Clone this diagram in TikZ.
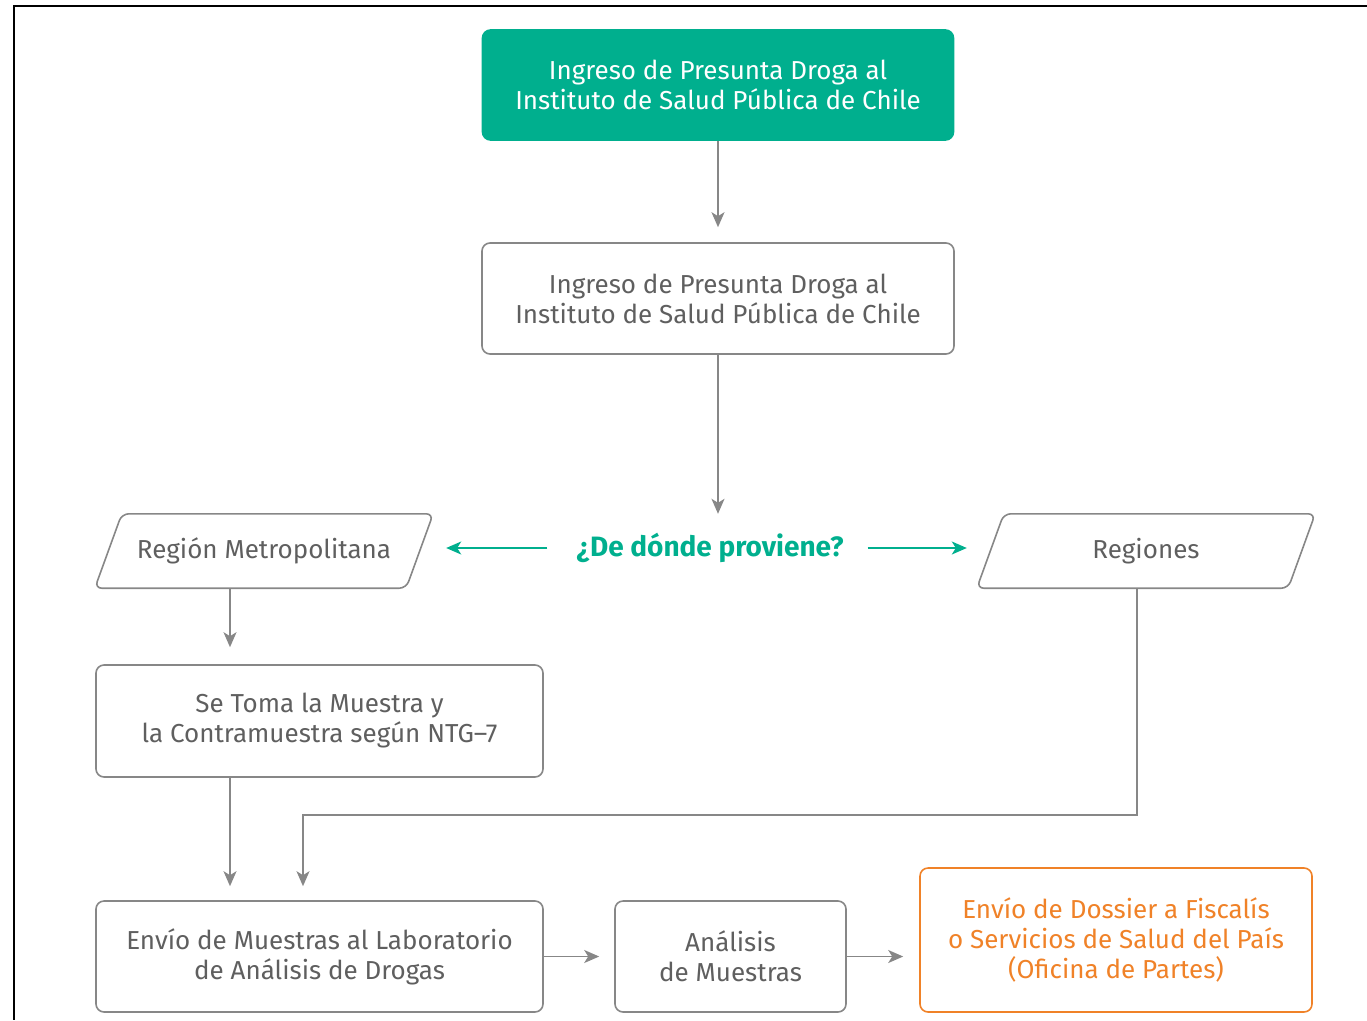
\documentclass[tikz,border=0pt]{standalone}
\usepackage{fontspec}
\setmainfont{Fira Sans}
\usetikzlibrary{arrows.meta}
\definecolor{ispgreen}{RGB}{0,175,142}
\definecolor{boxgray}{RGB}{135,135,135}
\definecolor{txtgray}{RGB}{95,95,95}
\definecolor{ispor}{RGB}{240,130,40}

\begin{document}
\begin{tikzpicture}[x=1pt, y=-1pt, font=\fontsize{26}{30}\selectfont,
	box/.style = {shape=rectangle, draw=boxgray, line width=1.6pt, rounded corners=8pt, align=center, text=txtgray, fill=white, inner sep=0pt},
	head/.style = {box, draw=ispgreen, fill=ispgreen, text=white},
	sent/.style = {box, draw=ispor, text=ispor},
	region/.style = {shape=rectangle, text=txtgray, minimum height=74pt, minimum width=338pt, inner sep=0pt},
	flow/.style = {draw=boxgray, line width=1.6pt, -{Stealth[length=15pt, width=13pt, inset=4pt]}},
	ask/.style = {draw=ispgreen, line width=1.6pt, -{Stealth[length=15pt, width=13pt, inset=4pt]}}]
	\useasboundingbox (0,0) rectangle (1367,1020);
	\draw[line width=2pt] (1367,6) -- (14,6) -- (14,1020);

	\node[head, minimum width=471pt, minimum height=110pt] (ingreso) at (718,85) {Ingreso de Presunta Droga al\\Instituto de Salud Pública de Chile};
	\node[box, minimum width=472pt, minimum height=111pt] (recep) at (718,298.5) {Ingreso de Presunta Droga al\\Instituto de Salud Pública de Chile};
	\node[text=ispgreen, font=\fontsize{28}{30}\selectfont\bfseries, inner sep=0pt] (origen) at (710,548) {¿De dónde proviene?};
	\node[region] (metro) at (264,551) {Región Metropolitana};
	\node[region] (regiones) at (1146,551) {Regiones};
	\node[box, minimum width=447pt, minimum height=112pt] (toma) at (319.5,721) {Se Toma la Muestra y\\la Contramuestra según NTG–7};
	\node[box, minimum width=447pt, minimum height=111pt] (envio) at (319.5,956.5) {Envío de Muestras al Laboratorio\\de Análisis de Drogas};
	\node[box, minimum width=231pt, minimum height=111pt] (analisis) at (730.5,956.5) {Análisis\\de Muestras};
	\node[sent, minimum width=392pt, minimum height=144pt] (dossier) at (1116,940) {Envío de Dossier a Fiscalís\\o Servicios de Salud del País\\(Oficina de Partes)};
	\coordinate (cruce) at (303,815);

	% slanted outline of the two origin boxes
	\foreach \n in {metro,regiones}
		\draw[boxgray, line width=1.6pt, rounded corners=7pt] (\n.south west) -- ([xshift=27pt]\n.north west) -- (\n.north east) -- ([xshift=-27pt]\n.south east) -- cycle;

	\draw[flow, shorten >=15pt] (ingreso) -- (recep);
	\draw[flow] (recep) -- (recep.south |- metro.north);
	\draw[ask, shorten <=29pt, shorten >=13pt] (origen.west) -- (origen.west -| metro.east);
	\draw[ask, shorten <=24pt, shorten >=10pt] (origen.east) -- (origen.east -| regiones.west);
	\draw[flow, shorten >=17pt] ([xshift=-34pt]metro.south) -- ([xshift=-34pt]metro.south |- toma.north);
	\draw[flow, shorten >=14pt] ([xshift=-89.5pt]toma.south) -- ([xshift=-89.5pt]toma.south |- envio.north);
	\draw[flow, shorten >=14pt] ([xshift=-9pt]regiones.south) |- (cruce) -- (cruce |- envio.north);
	\draw[flow, shorten >=15pt] (envio) -- (analisis);
	\draw[flow, shorten >=16pt] (analisis.east) -- (analisis.east -| dossier.west);
\end{tikzpicture}
\end{document}
